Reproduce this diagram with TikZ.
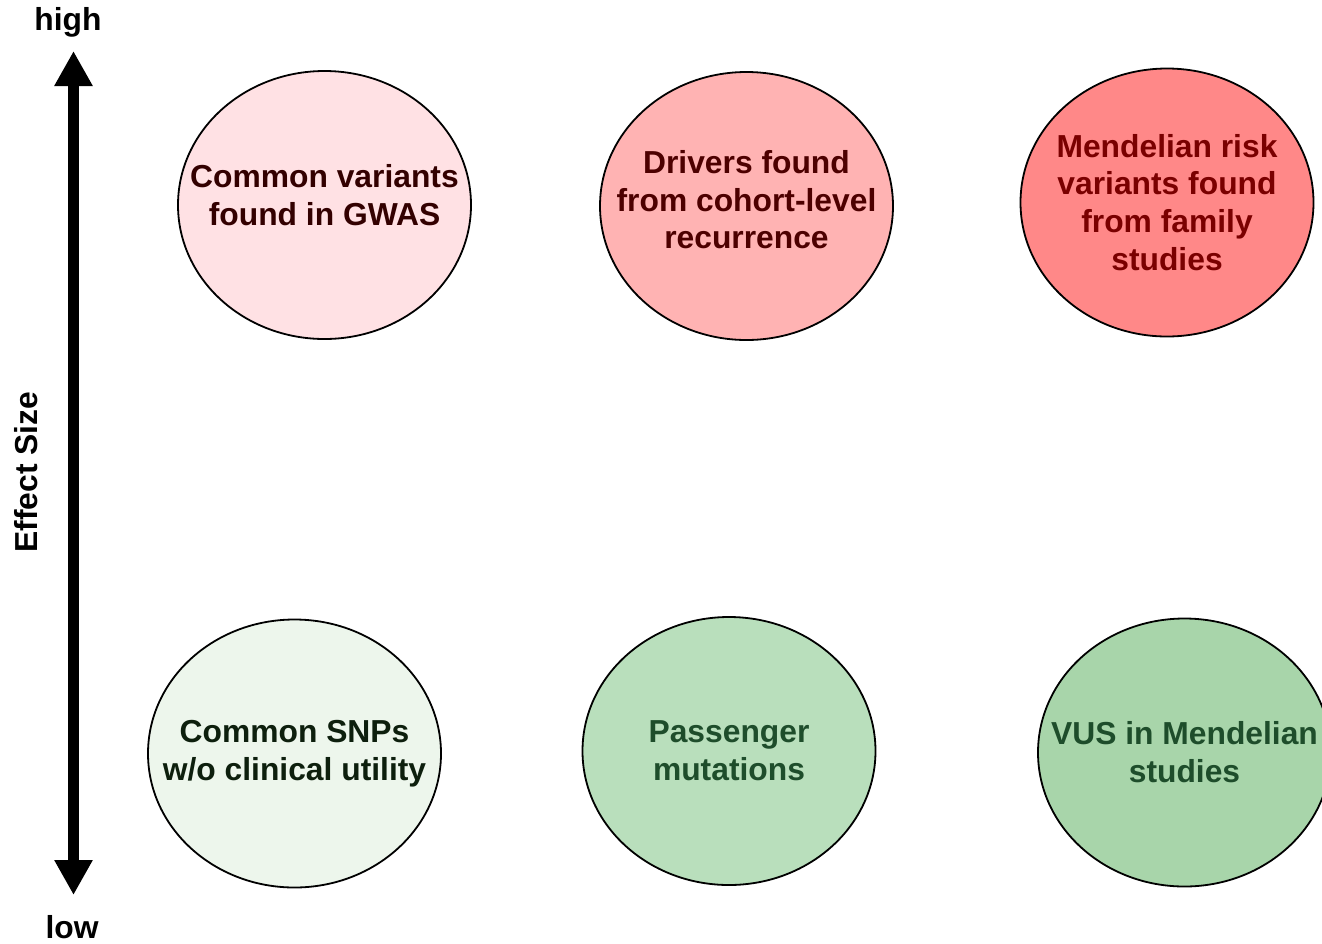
\documentclass[tikz,border=0pt]{standalone}
\usepackage{fontspec}
\setmainfont{Liberation Sans}
\usepackage{xcolor}
\usepackage{tikz}
\usetikzlibrary{shapes.geometric,arrows.meta}
\definecolor{redlight}{HTML}{FFE1E4}
\definecolor{redmid}{HTML}{FFB3B3}
\definecolor{redstrong}{HTML}{FF8888}
\definecolor{greenlight}{HTML}{EDF6EC}
\definecolor{greenmid}{HTML}{B9DFBC}
\definecolor{greenstrong}{HTML}{A8D5AA}
\definecolor{txtredlight}{HTML}{330000}
\definecolor{txtredmid}{HTML}{4D0000}
\definecolor{txtredstrong}{HTML}{7A0000}
\definecolor{txtgreenlight}{HTML}{0D1F0D}
\definecolor{txtgreen}{HTML}{1E4D2B}
\tikzset{
    variantnode/.style n args={2}{ellipse, draw=black, line width=1.8pt,
        fill=#1, text=#2, minimum width=293pt, minimum height=268pt,
        inner xsep=-50pt, inner ysep=0pt, align=center,
        font=\fontsize{31.8}{37.8}\selectfont\bfseries},
    axislabel/.style={inner sep=0pt,
        font=\fontsize{31.8}{37.8}\selectfont\bfseries},
    axisarrow/.style={line width=11pt,
        {Triangle[width=36pt,length=35pt]}-{Triangle[width=36pt,length=35pt]}},
}

\begin{document}
\begin{tikzpicture}[x=1pt, y=-1pt]

    \useasboundingbox (0,0) rectangle (1322,943);
    \clip (0,0) rectangle (1322,943);

    % ── Effect size axis ───────────────────────────────────────────────────
    \coordinate (axtop) at (73.5,51);
    \coordinate (axbot) at (73.5,895);
    \draw[axisarrow] (axbot) -- (axtop);
    \node[axislabel] (high) at (68,22) {high};
    \node[axislabel] (low) at (72,927) {low};
    \node[axislabel, rotate=90] (effect) at (26,472) {Effect Size};

    % ── High effect (top row) ──────────────────────────────────────────────
    \node[variantnode={redlight}{txtredlight}] (gwas) at (324.5,205)
        {Common variants\\found in GWAS\\[-17.5pt]};
    \node[variantnode={redmid}{txtredmid}] (drivers) at (746.5,206)
        {Drivers found\\from cohort-level\\recurrence\\[-25pt]};
    \node[variantnode={redstrong}{txtredstrong}] (mendel) at (1167,202.5)
        {Mendelian risk\\variants found\\from family\\studies};

    % ── Low effect (bottom row) ────────────────────────────────────────────
    \node[variantnode={greenlight}{txtgreenlight}] (snps) at (294.5,753.5)
        {Common SNPs\\w/o clinical utility};
    \node[variantnode={greenmid}{txtgreen}] (passenger) at (729,751)
        {Passenger\\mutations};
    \node[variantnode={greenstrong}{txtgreen}] (vus) at (1184.5,752.5)
        {VUS in Mendelian\\studies};

\end{tikzpicture}
\end{document}
